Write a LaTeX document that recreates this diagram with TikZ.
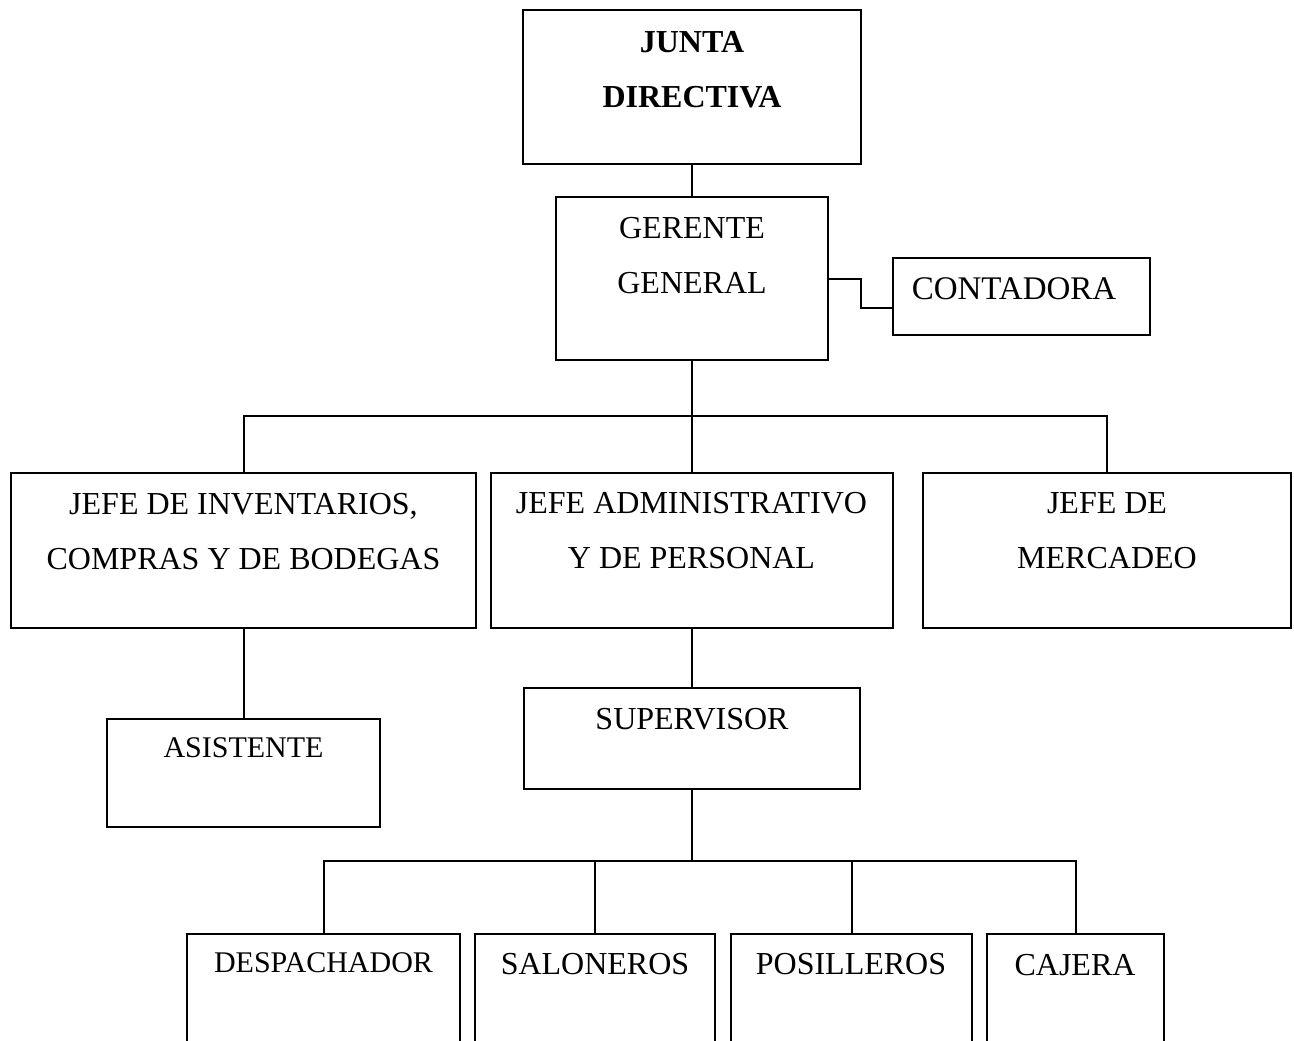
\documentclass[tikz,border=0pt]{standalone}
\usepackage{fontspec}
\setmainfont{Liberation Serif}
\usetikzlibrary{positioning,fit,calc}
\tikzset{
	caja/.style={draw, line width=1pt, inner sep=0pt},
	texto/.style={anchor=base, align=center, inner sep=0pt, font=\fontsize{16}{27.5}\selectfont},
	chico/.style={texto, font=\fontsize{15}{27.5}\selectfont},
	negrita/.style={texto, font=\fontsize{16}{27.5}\selectfont\bfseries},
	linea/.style={line width=1pt}
}
\begin{document}
\begin{tikzpicture}[x=0.5pt,y=-0.5pt]
	\useasboundingbox (0,0) rectangle (1294,1040);
	\clip (0,0) rectangle (1294,1040);
	\node[caja, fit={(523,10) (861,164)}] (junta) {};
	\node[caja, fit={(556,197) (828,360)}] (gerente) {};
	\node[caja, fit={(893,258) (1150,335)}] (contadora) {};
	\node[caja, fit={(11,473) (476,628)}] (inventarios) {};
	\node[caja, fit={(491,473) (893,628)}] (administrativo) {};
	\node[caja, fit={(923,473) (1291,628)}] (mercadeo) {};
	\node[caja, fit={(107,719) (380,827)}] (asistente) {};
	\node[caja, fit={(524,688) (860,789)}] (supervisor) {};
	\node[caja, fit={(187,934) (460,1060)}] (despachador) {};
	\node[caja, fit={(475,934) (715,1060)}] (saloneros) {};
	\node[caja, fit={(731,934) (972,1060)}] (posilleros) {};
	\node[caja, fit={(987,934) (1164,1060)}] (cajera) {};

	\node[negrita] (junta-t) at (692,107) {JUNTA\\DIRECTIVA};
	\node[texto] (gerente-t) at (692,293) {GERENTE\\GENERAL};
	\node[texto, font=\fontsize{16.5}{20}\selectfont] (contadora-t) at (1014,299) {CONTADORA};
	\node[texto] (inventarios-t) at (243.5,569) {JEFE DE INVENTARIOS,\\COMPRAS Y DE BODEGAS};
	\node[texto] (administrativo-t) at (691.5,568) {JEFE ADMINISTRATIVO\\Y DE PERSONAL};
	\node[texto] (mercadeo-t) at (1107,568) {JEFE DE\\MERCADEO};
	\node[chico] (asistente-t) at (243.5,757) {ASISTENTE};
	\node[texto] (supervisor-t) at (692,729) {SUPERVISOR};
	\node[chico] (despachador-t) at (323.5,972) {DESPACHADOR};
	\node[texto] (saloneros-t) at (595,974) {SALONEROS};
	\node[texto] (posilleros-t) at (851,974) {POSILLEROS};
	\node[texto] (cajera-t) at (1075,975) {CAJERA};

	\coordinate (b1) at (692,416);
	\coordinate (b2) at (692,861);
	\draw[linea] (junta) -- (gerente);
	\draw[linea] (gerente.east) -- ++(32,0) |- ($(contadora.west)+(0,11.5)$);
	\draw[linea] (gerente) -- (b1);
	\draw[linea] (inventarios) |- (b1) -| (mercadeo);
	\draw[linea] (b1) -- (administrativo);
	\draw[linea] (inventarios) -- (asistente);
	\draw[linea] (administrativo) -- (supervisor);
	\draw[linea] (supervisor) -- (b2);
	\draw[linea] (despachador) |- (b2) -| (cajera);
	\draw[linea] (saloneros.north) -- (saloneros.north |- b2);
	\draw[linea] (posilleros.north) -- (posilleros.north |- b2);
\end{tikzpicture}
\end{document}
